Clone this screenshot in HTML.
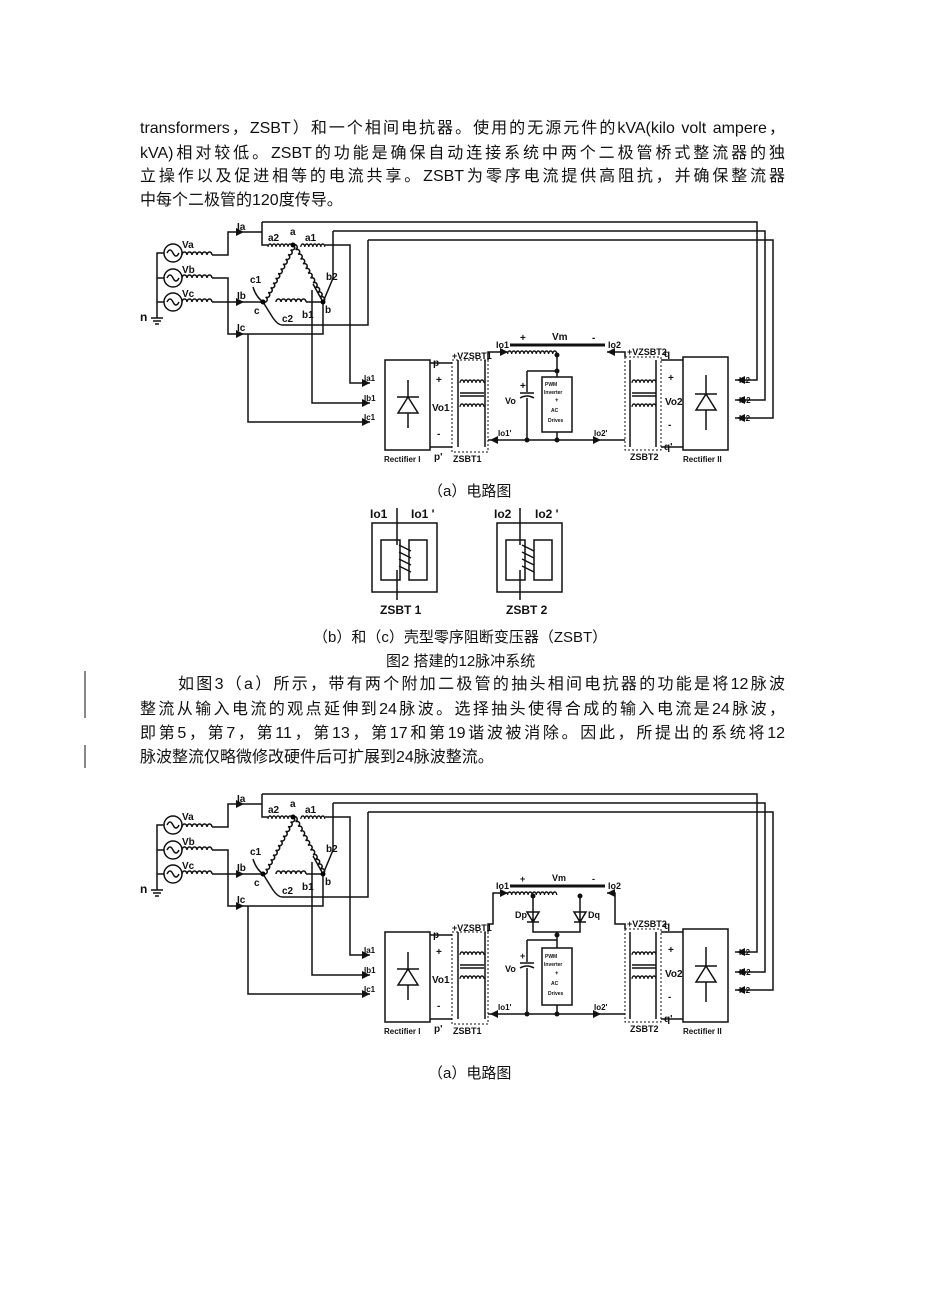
<!DOCTYPE html>
<html><head><meta charset="utf-8"><style>
body{margin:0;background:#fff;}
#p{position:relative;width:926px;height:1310px;overflow:hidden;background:#fff;}
.t{position:absolute;left:140px;width:645px;font:16px/24px "Liberation Sans","Noto Sans CJK SC",sans-serif;color:#111;text-align:justify;text-align-last:justify;white-space:nowrap;}
.l{text-align-last:left;}
.c{position:absolute;font:15px "Liberation Sans","Noto Sans CJK SC",sans-serif;color:#111;white-space:nowrap;}
svg{position:absolute;left:0;top:0;}
svg text{font-family:"Liberation Sans",sans-serif;font-weight:bold;fill:#111;}
</style></head><body><div id="p">
<div class="t" style="top:117px">transformers，ZSBT）和一个相间电抗器。使用的无源元件的kVA(kilo volt ampere，</div>
<div class="t" style="top:142px">kVA)相对较低。ZSBT的功能是确保自动连接系统中两个二极管桥式整流器的独</div>
<div class="t" style="top:165px">立操作以及促进相等的电流共享。ZSBT为零序电流提供高阻抗，并确保整流器</div>
<div class="t l" style="top:189px">中每个二极管的120度传导。</div>
<div class="c" style="left:428px;top:480px">（a）电路图</div>
<div class="c" style="left:313px;top:626px">（b）和（c）壳型零序阻断变压器（ZSBT）</div>
<div class="c" style="left:386px;top:650px">图2 搭建的12脉冲系统</div>
<div class="t" style="top:673px;left:178px;width:607px">如图3（a）所示，带有两个附加二极管的抽头相间电抗器的功能是将12脉波</div>
<div class="t" style="top:698px">整流从输入电流的观点延伸到24脉波。选择抽头使得合成的输入电流是24脉波，</div>
<div class="t" style="top:722px">即第5，第7，第11，第13，第17和第19谐波被消除。因此，所提出的系统将12</div>
<div class="t l" style="top:746px">脉波整流仅略微修改硬件后可扩展到24脉波整流。</div>
<div class="c" style="left:428px;top:1062px">（a）电路图</div>
<svg width="926" height="1310" viewBox="0 0 926 1310">
<defs>
<path id="coil" d="M0,0a2.5,3 0 0 1 5,0a2.5,3 0 0 1 5,0a2.5,3 0 0 1 5,0a2.5,3 0 0 1 5,0a2.5,3 0 0 1 5,0a2.5,3 0 0 1 5,0" fill="none" stroke="#111" stroke-width="1.5"/>
<path id="dcoil" d="M0,0a2.5,3 0 0 1 5,0a2.5,3 0 0 1 5,0a2.5,3 0 0 1 5,0a2.5,3 0 0 1 5,0a2.5,3 0 0 1 5,0a2.5,3 0 0 1 5,0a2.5,3 0 0 1 5,0a2.5,3 0 0 1 5,0a2.5,3 0 0 1 5,0a2.5,3 0 0 1 5,0a2.5,3 0 0 1 5,0a2.5,3 0 0 1 5,0" fill="none" stroke="#111" stroke-width="1.5"/>
<path id="arR" d="M0,-4L8,0L0,4z" fill="#111"/>
<path id="arL" d="M0,-4L-8,0L0,4z" fill="#111"/>
<g id="left" stroke="#111" stroke-width="1.5" fill="none">
 <circle cx="173" cy="253" r="9"/><circle cx="173" cy="278" r="9"/><circle cx="173" cy="302" r="9"/>
 <path d="M167,253q3,-6 6,0t6,0M167,278q3,-6 6,0t6,0M167,302q3,-6 6,0t6,0"/>
 <path d="M164,253H157V318M164,278H157M164,302H157M151,318h12M153,321h8M155,324h4"/>
 <use href="#coil" x="182" y="255"/><use href="#coil" x="182" y="278"/><use href="#coil" x="182" y="302"/>
 <path d="M212,255H228V232H262M212,278H228V334H323V302M212,302H263"/>
 <path d="M262,222H757V380H735M262,222V245H268M333,231H765V400H735M333,231V278M368,240H773V418H735M368,240V325H282"/>
 <use href="#coil" x="268" y="247" transform="scale(0.8,1) translate(67,0)"/>
 <use href="#coil" x="300" y="247" transform="scale(0.8,1) translate(76,0)"/>
 <path d="M325,245H350V383H370M312,290V403H370M248,334V422H370"/>
 <use href="#dcoil" transform="translate(293,245) rotate(117.8) scale(1.07,1)"/>
 <use href="#dcoil" transform="translate(293,245) rotate(62.2) scale(1.07,1)"/>
 <use href="#coil" x="276" y="302"/>
 <path d="M306,302H323M263,302l10,16q5,7 9,7M323,302l-10,-18M333,278q-4,10 -10,24M253,287q3,10 10,15"/>
 <rect x="385" y="360" width="45" height="90"/>
 <path d="M398,413H418L408,397z M397,397H419 M408,380V397 M408,413V428"/>
 <path d="M430,363H452M430,447H452"/>
 <rect x="452" y="360" width="36" height="92" stroke-dasharray="2,2" stroke-width="1"/>
 <path d="M458,360V447M485,360V447"/>
 <use href="#coil" x="460" y="383" transform="scale(0.8,1) translate(115,0)"/>
 <path d="M460,393H484M460,396H484"/>
 <use href="#coil" x="460" y="407" transform="scale(0.8,1) translate(115,0)"/>
 <rect x="683" y="357" width="45" height="93"/>
 <path d="M696,410H716L706,394z M695,394H717 M706,375V394 M706,410V430"/>
 <rect x="625" y="357" width="36" height="93" stroke-dasharray="2,2" stroke-width="1"/>
 <path d="M630,360V447M656,360V447M661,360H683M661,447H683"/>
 <use href="#coil" x="632" y="383" transform="scale(0.8,1) translate(158,0)"/>
 <path d="M632,393H656M632,396H656"/>
 <use href="#coil" x="632" y="407" transform="scale(0.8,1) translate(158,0)"/>
</g>
</defs>
<use href="#left"/>
<use href="#left" transform="translate(0,572)"/>
<g>
 <use href="#arR" x="236" y="232"/><use href="#arR" x="236" y="302"/><use href="#arR" x="236" y="334"/>
 <use href="#arR" x="362" y="383"/><use href="#arR" x="362" y="403"/><use href="#arR" x="362" y="422"/>
 <use href="#arL" x="745" y="380"/><use href="#arL" x="745" y="400"/><use href="#arL" x="745" y="418"/>
 <circle cx="293" cy="245" r="2.5"/><circle cx="263" cy="302" r="2.5"/><circle cx="323" cy="302" r="2.5"/>
</g>
<g transform="translate(0,572)">
 <use href="#arR" x="236" y="232"/><use href="#arR" x="236" y="302"/><use href="#arR" x="236" y="334"/>
 <use href="#arR" x="362" y="383"/><use href="#arR" x="362" y="403"/><use href="#arR" x="362" y="422"/>
 <use href="#arL" x="745" y="380"/><use href="#arL" x="745" y="400"/><use href="#arL" x="745" y="418"/>
 <circle cx="293" cy="245" r="2.5"/><circle cx="263" cy="302" r="2.5"/><circle cx="323" cy="302" r="2.5"/>
</g>
<g stroke="#111" stroke-width="1.5" fill="none">
 <path d="M488,360V352H508M607,352H625V357M488,440H625"/>
 <use href="#dcoil" x="508" y="354" transform="scale(0.82,1) translate(111,0)"/>
 <path d="M510,345H605" stroke-width="3"/>
 <path d="M557,354V377M527,371H557M527,371V392M520,393H534M520,398q7,-4 14,0M527,398V440M557,432V440"/>
 <rect x="542" y="377" width="30" height="55"/>
</g>
<g fill="#111"><circle cx="557" cy="355" r="2.5"/><circle cx="557" cy="371" r="2.5"/><circle cx="527" cy="440" r="2.5"/><circle cx="557" cy="440" r="2.5"/>
<use href="#arR" x="500" y="352"/><use href="#arL" x="615" y="352"/><use href="#arL" x="498" y="440"/><use href="#arR" x="593" y="440"/></g>
<g stroke="#111" stroke-width="1.5" fill="none">
 <path d="M488,932V924H493V893H508M607,893H615V924H625V929M488,1014H625"/>
 <use href="#dcoil" x="508" y="895" transform="scale(0.82,1) translate(111,0)"/>
 <path d="M510,886H605" stroke-width="3"/>
 <path d="M533,895V932H580V895M527,912H539L533,922zM527,922H539M574,912H586L580,922zM574,922H586"/>
 <path d="M557,932V948M527,940H557M527,940V962M520,963H534M520,968q7,-4 14,0M527,968V1014M557,1005V1014"/>
 <rect x="542" y="948" width="30" height="57"/>
</g>
<g fill="#111"><circle cx="533" cy="896" r="2.5"/><circle cx="580" cy="896" r="2.5"/><circle cx="557" cy="935" r="2.5"/><circle cx="527" cy="1014" r="2.5"/><circle cx="557" cy="1014" r="2.5"/>
<use href="#arR" x="500" y="893"/><use href="#arL" x="615" y="893"/><use href="#arL" x="498" y="1014"/><use href="#arR" x="593" y="1014"/></g>
<g font-size="10">
 <text x="182" y="248">Va</text><text x="182" y="273">Vb</text><text x="182" y="297">Vc</text><text x="140" y="321" font-size="12">n</text>
 <text x="237" y="230">Ia</text><text x="237" y="299">Ib</text><text x="237" y="331">Ic</text>
 <text x="268" y="241">a2</text><text x="290" y="235">a</text><text x="305" y="241">a1</text>
 <text x="250" y="283">c1</text><text x="254" y="314">c</text><text x="282" y="322">c2</text><text x="302" y="318">b1</text><text x="325" y="313">b</text><text x="326" y="280">b2</text>
 <text x="364" y="381" font-size="8">Ia1</text><text x="364" y="401" font-size="8">Ib1</text><text x="364" y="420" font-size="8">Ic1</text>
 <text x="433" y="366">p</text><text x="436" y="383">+</text><text x="432" y="411">Vo1</text><text x="437" y="437">-</text><text x="434" y="460">p'</text>
 <text x="452" y="359" font-size="9">+VZSBT1</text><text x="453" y="462" font-size="9">ZSBT1</text><text x="384" y="462" font-size="8">Rectifier I</text>
 <text x="627" y="355" font-size="9">+VZSBT2</text><text x="630" y="460" font-size="9">ZSBT2</text>
 <text x="664" y="357">q</text><text x="668" y="381">+</text><text x="665" y="405">Vo2</text><text x="668" y="428">-</text><text x="664" y="450">q'</text>
 <text x="683" y="462" font-size="8">Rectifier II</text>
 <text x="739" y="383" font-size="8">Ia2</text><text x="739" y="403" font-size="8">Ib2</text><text x="739" y="421" font-size="8">Ic2</text>
 <text x="496" y="348" font-size="9">Io1</text><text x="608" y="348" font-size="9">Io2</text><text x="520" y="341">+</text><text x="552" y="340">Vm</text><text x="592" y="341">-</text>
 <text x="505" y="404" font-size="9">Vo</text><text x="520" y="389">+</text><text x="498" y="436" font-size="8">Io1'</text><text x="594" y="436" font-size="8">Io2'</text>
 <text x="545" y="386" font-size="5">PWM</text><text x="544" y="394" font-size="5">Inverter</text><text x="555" y="402" font-size="6">+</text><text x="551" y="412" font-size="5">AC</text><text x="548" y="422" font-size="5">Drives</text>
</g>
<g font-size="10" transform="translate(0,572)">
 <text x="182" y="248">Va</text><text x="182" y="273">Vb</text><text x="182" y="297">Vc</text><text x="140" y="321" font-size="12">n</text>
 <text x="237" y="230">Ia</text><text x="237" y="299">Ib</text><text x="237" y="331">Ic</text>
 <text x="268" y="241">a2</text><text x="290" y="235">a</text><text x="305" y="241">a1</text>
 <text x="250" y="283">c1</text><text x="254" y="314">c</text><text x="282" y="322">c2</text><text x="302" y="318">b1</text><text x="325" y="313">b</text><text x="326" y="280">b2</text>
 <text x="364" y="381" font-size="8">Ia1</text><text x="364" y="401" font-size="8">Ib1</text><text x="364" y="420" font-size="8">Ic1</text>
 <text x="433" y="366">p</text><text x="436" y="383">+</text><text x="432" y="411">Vo1</text><text x="437" y="437">-</text><text x="434" y="460">p'</text>
 <text x="452" y="359" font-size="9">+VZSBT1</text><text x="453" y="462" font-size="9">ZSBT1</text><text x="384" y="462" font-size="8">Rectifier I</text>
 <text x="627" y="355" font-size="9">+VZSBT2</text><text x="630" y="460" font-size="9">ZSBT2</text>
 <text x="664" y="357">q</text><text x="668" y="381">+</text><text x="665" y="405">Vo2</text><text x="668" y="428">-</text><text x="664" y="450">q'</text>
 <text x="683" y="462" font-size="8">Rectifier II</text>
 <text x="739" y="383" font-size="8">Ia2</text><text x="739" y="403" font-size="8">Ib2</text><text x="739" y="421" font-size="8">Ic2</text>
</g>
<g font-size="9">
 <text x="496" y="889">Io1</text><text x="608" y="889">Io2</text><text x="520" y="882">+</text><text x="552" y="881">Vm</text><text x="592" y="882">-</text>
 <text x="515" y="918">Dp</text><text x="588" y="918">Dq</text>
 <text x="505" y="972">Vo</text><text x="520" y="959">+</text><text x="498" y="1010" font-size="8">Io1'</text><text x="594" y="1010" font-size="8">Io2'</text>
 <text x="545" y="958" font-size="5">PWM</text><text x="544" y="966" font-size="5">Inverter</text><text x="555" y="975" font-size="6">+</text><text x="551" y="985" font-size="5">AC</text><text x="548" y="995" font-size="5">Drives</text>
</g>
<g stroke="#111" stroke-width="1.5" fill="none">
 <rect x="372" y="523" width="65" height="69"/><rect x="381" y="540" width="19" height="40"/><rect x="409" y="540" width="18" height="40"/>
 <path d="M397,508V545M397,570V600M399,545l12,6M399,552l12,6M399,559l12,6M399,566l12,6"/>
 <rect x="497" y="523" width="65" height="69"/><rect x="506" y="540" width="19" height="40"/><rect x="534" y="540" width="18" height="40"/>
 <path d="M520,508V545M520,570V600M522,545l12,6M522,552l12,6M522,559l12,6M522,566l12,6"/>
</g>
<g font-size="12">
 <text x="370" y="518">Io1</text><text x="411" y="518">Io1 '</text><text x="380" y="614">ZSBT 1</text>
 <text x="494" y="518">Io2</text><text x="535" y="518">Io2 '</text><text x="506" y="614">ZSBT 2</text>
</g>
<path d="M85,671V718M85,745V768" stroke="#111" stroke-width="1"/>
</svg>
</div></body></html>
